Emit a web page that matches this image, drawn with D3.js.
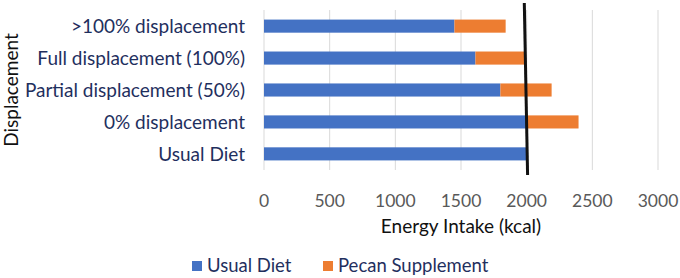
<!DOCTYPE html>
<html>
<head>
<meta charset="utf-8">
<script src="https://cdn.jsdelivr.net/npm/d3@7"></script>
<style>
  body { margin: 0; background: #fff; }
  text { font-family: Lato, "Open Sans", sans-serif; }
</style>
</head>
<body>
<svg id="chart"></svg>
<script>
// chart data
const categories = [">100% displacement", "Full displacement (100%)", "Partial displacement (50%)", "0% displacement", "Usual Diet"];
const usualDiet = [1450, 1610, 1800, 2000, 2000];
const pecanSupplement = [390, 370, 390, 395, 0];
const xTicks = [0, 500, 1000, 1500, 2000, 2500, 3000];
const seriesNames = ["Usual Diet", "Pecan Supplement"];
const refLine = [1982, 2007]; // hand-drawn line, top and bottom value

const width = 680, height = 278,
    margin = { top: 10, right: 22, bottom: 108, left: 264 };

const colors = ["#4472C4", "#ED7D31"];

const svg = d3.select('#chart')
    .attr("width", width)
    .attr("height", height)

const x = d3.scaleLinear()
    .domain([0, 3000])
    .range([margin.left, width - margin.right])

const y = d3.scaleBand()
    .domain(categories)
    .range([margin.top, height - margin.bottom])
    .paddingInner(0.59)
    .paddingOuter(0.3)

// gridlines
svg.append("g")
    .selectAll("line")
    .data(xTicks)
    .join("line")
    .attr("x1", d => x(d))
    .attr("x2", d => x(d))
    .attr("y1", margin.top)
    .attr("y2", height - margin.bottom)
    .attr("stroke", "#d9d9d9")
    .attr("stroke-width", 1)

const rows = categories.map((c, i) => ({ cat: c, usual: usualDiet[i], pecan: pecanSupplement[i] }));
const stacked = d3.stack().keys(["usual", "pecan"])(rows);

svg.append("g")
    .selectAll("g")
    .data(stacked)
    .join("g")
    .attr("fill", (d, i) => colors[i])
    .selectAll("rect")
    .data(d => d)
    .join("rect")
    .attr("x", d => x(d[0]))
    .attr("y", d => y(d.data.cat))
    .attr("width", d => x(d[1]) - x(d[0]))
    .attr("height", y.bandwidth())

// category labels
svg.append("g")
    .selectAll("text")
    .data(categories)
    .join("text")
    .attr("x", margin.left - 19)
    .attr("y", d => y(d) + y.bandwidth() / 2)
    .attr("dy", "0.35em")
    .attr("text-anchor", "end")
    .attr("fill", "#1F2F5E")
    .style("font-size", "19px")
    .text(d => d)

// tick labels
svg.append("g")
    .selectAll("text")
    .data(xTicks)
    .join("text")
    .attr("x", d => x(d))
    .attr("y", 201)
    .attr("dy", "0.35em")
    .attr("text-anchor", "middle")
    .attr("fill", "#595959")
    .style("font-size", "17.5px")
    .text(d => d)

// the black reference line
svg.append("line")
    .attr("x1", x(refLine[0]))
    .attr("x2", x(refLine[1]))
    .attr("y1", margin.top - 7)
    .attr("y2", height - margin.bottom + 5)
    .attr("stroke", "#111")
    .attr("stroke-width", 3)

// axis titles
svg.append("text")
    .attr("x", (x.range()[0] + x.range()[1]) / 2)
    .attr("y", 226)
    .attr("dy", "0.35em")
    .attr("text-anchor", "middle")
    .attr("fill", "#111")
    .style("font-size", "19px")
    .text("Energy Intake (kcal)")

svg.append("text")
    .attr("transform", "translate(18," + ((margin.top + height - margin.bottom) / 2) + ") rotate(-90)")
    .attr("text-anchor", "middle")
    .attr("fill", "#111")
    .style("font-size", "19px")
    .text("Displacement")

// legend
const legendX = [192, 323];
const legend = svg.append("g")
    .selectAll("g")
    .data(seriesNames)
    .join("g")
    .attr("transform", (d, i) => "translate(" + legendX[i] + "," + 266 + ")")

legend.append("rect")
    .attr("x", 0)
    .attr("y", -5)
    .attr("width", 10)
    .attr("height", 10)
    .attr("fill", (d, i) => colors[i])

legend.append("text")
    .attr("x", 15)
    .attr("dy", "0.35em")
    .attr("fill", "#1F2F5E")
    .style("font-size", "18.5px")
    .text(d => d)
</script>
</body>
</html>
